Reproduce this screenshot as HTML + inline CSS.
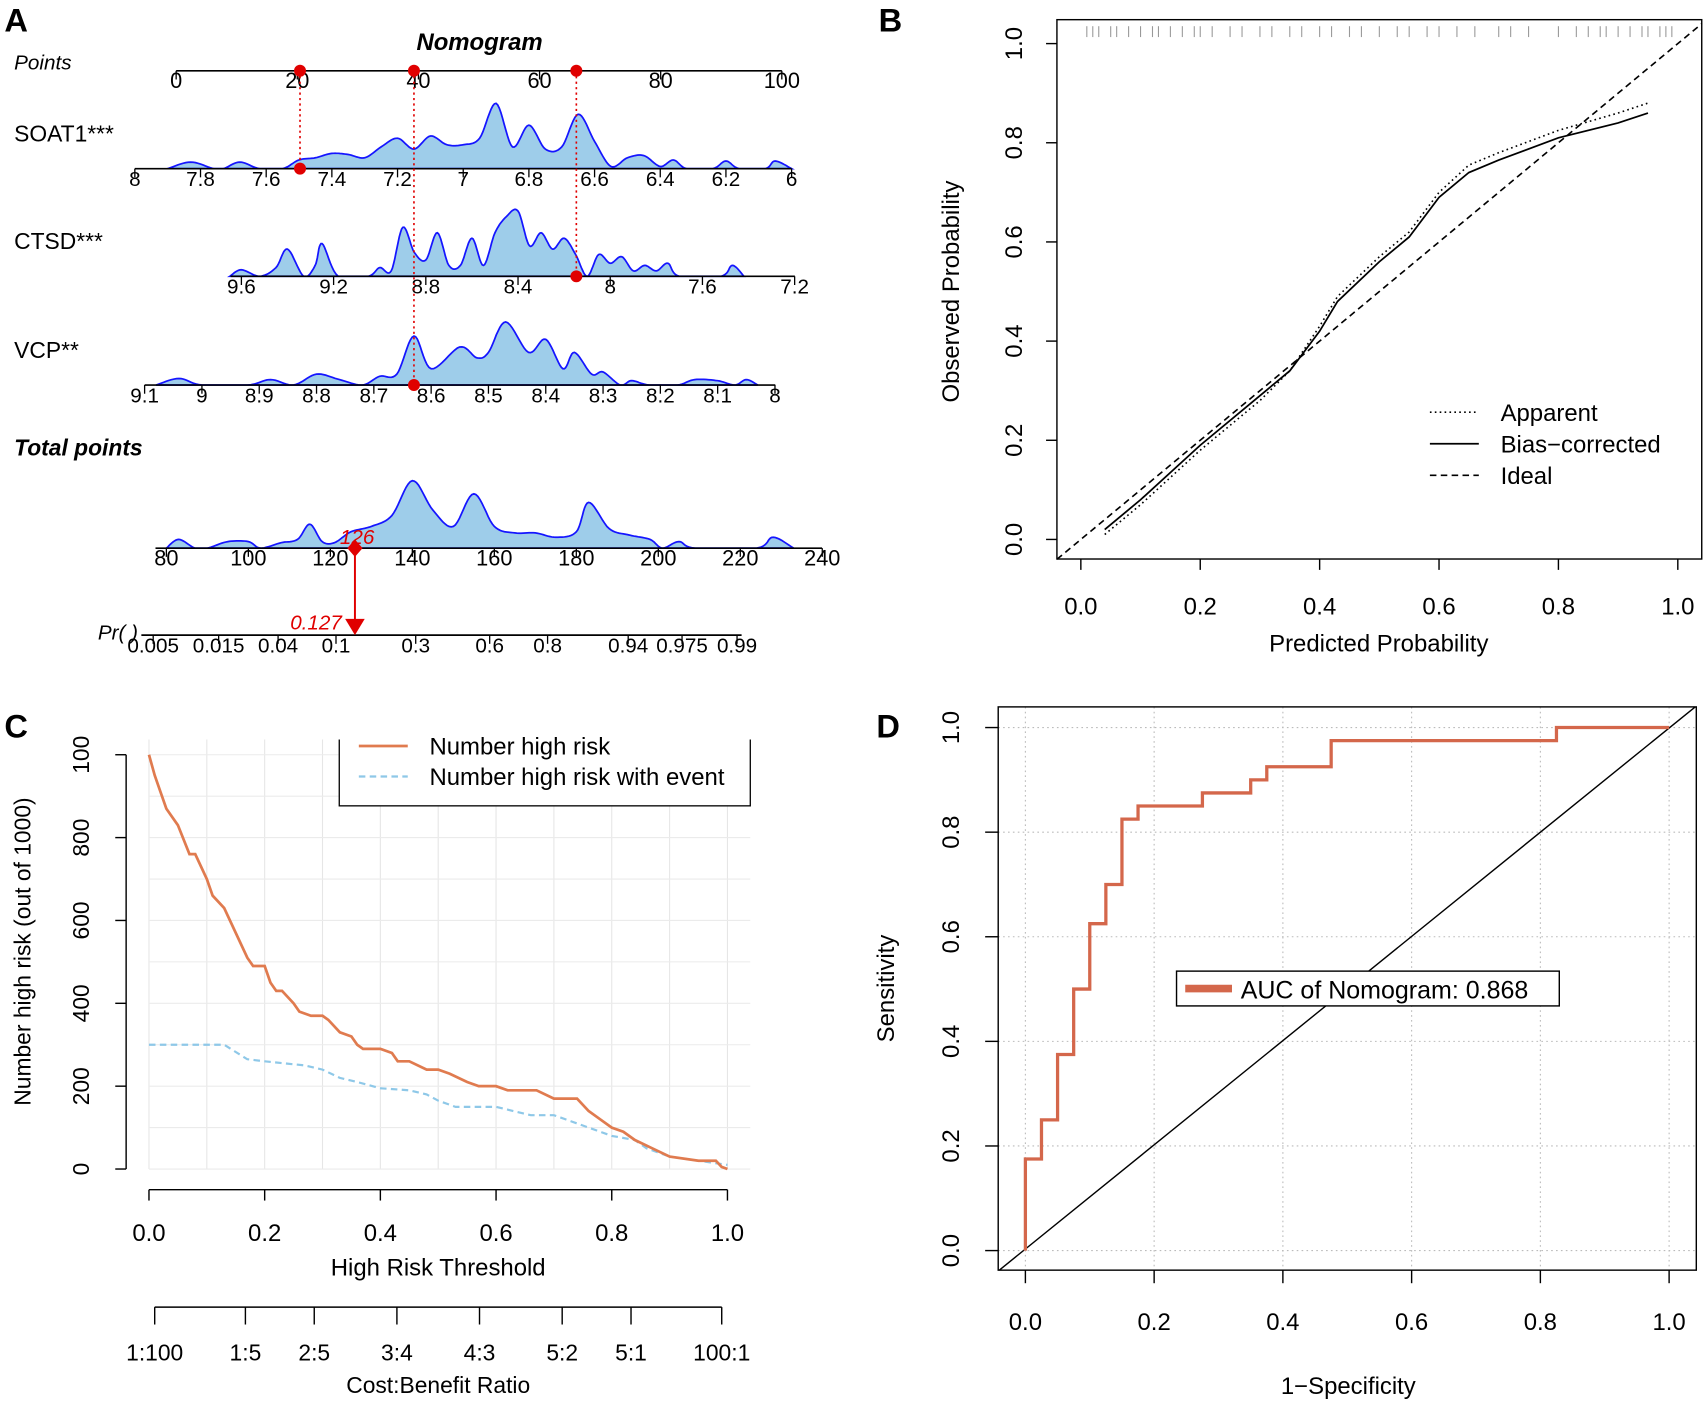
<!DOCTYPE html>
<html><head><meta charset="utf-8"><style>
html,body{margin:0;padding:0;background:#fff}
svg{display:block;font-family:"Liberation Sans",Arial,sans-serif}
</style></head><body>
<svg id="fig" xmlns="http://www.w3.org/2000/svg" width="1705" height="1404" viewBox="0 0 1568 1291">
<rect width="1568" height="1291" fill="#fff"/>
<!-- Panel A static -->
<text x="4" y="29" font-size="30" font-weight="bold">A</text>
<text x="441" y="46" font-size="22" font-weight="bold" font-style="italic" text-anchor="middle">Nomogram</text>
<text x="13" y="64" font-size="19" font-style="italic">Points</text>
<text x="13" y="130" font-size="21">SOAT1***</text>
<text x="13" y="229" font-size="21">CTSD***</text>
<text x="13" y="329" font-size="21">VCP**</text>
<text x="13" y="419" font-size="21" font-weight="bold" font-style="italic">Total points</text>
<text x="90" y="588" font-size="19" font-style="italic">Pr( )</text>
<g id="pa"></g>
<!-- Panel B static -->
<text x="808" y="29" font-size="30" font-weight="bold">B</text>
<rect x="972" y="18" width="593" height="496" fill="none" stroke="#000" stroke-width="1.3"/>
<text transform="translate(882,268) rotate(-90)" font-size="22" text-anchor="middle">Observed Probability</text>
<text x="1268" y="599" font-size="22" text-anchor="middle">Predicted Probability</text>
<g>
<line x1="1315" y1="379" x2="1360" y2="379" stroke="#000" stroke-width="1.5" stroke-dasharray="1.5,3"/>
<text x="1380" y="387" font-size="22">Apparent</text>
<line x1="1315" y1="408" x2="1360" y2="408" stroke="#000" stroke-width="1.5"/>
<text x="1380" y="416" font-size="22">Bias−corrected</text>
<line x1="1315" y1="437" x2="1360" y2="437" stroke="#000" stroke-width="1.5" stroke-dasharray="6,4"/>
<text x="1380" y="445" font-size="22">Ideal</text>
</g>
<g id="pb"></g>
<!-- Panel C static -->
<text x="4" y="678" font-size="30" font-weight="bold">C</text>
<g id="pcgrid"></g>
<text transform="translate(28,875) rotate(-90)" font-size="21" text-anchor="middle">Number high risk (out of 1000)</text>
<text x="403" y="1173" font-size="22" text-anchor="middle">High Risk Threshold</text>
<text x="403" y="1281" font-size="21" text-anchor="middle">Cost:Benefit Ratio</text>
<g id="pc"></g>
<g>
<rect x="312" y="672" width="378" height="69" fill="#fff" stroke="#000" stroke-width="1.2"/>
<rect x="300" y="650" width="400" height="30" fill="#fff"/>
<line x1="330" y1="686" x2="375" y2="686" stroke="#E07B4F" stroke-width="2.5"/>
<text x="395" y="694" font-size="22">Number high risk</text>
<line x1="330" y1="714" x2="375" y2="714" stroke="#8EC8E8" stroke-width="2" stroke-dasharray="6,4"/>
<text x="395" y="722" font-size="22">Number high risk with event</text>
</g>
<!-- Panel D static -->
<text x="806" y="678" font-size="30" font-weight="bold">D</text>
<g id="pdgrid"></g>
<rect x="918" y="650" width="642" height="518" fill="none" stroke="#000" stroke-width="1.3"/>
<line x1="919" y1="1168" x2="1559" y2="650" stroke="#000" stroke-width="1.3"/>
<text transform="translate(822,909) rotate(-90)" font-size="22" text-anchor="middle">Sensitivity</text>
<text x="1240" y="1282" font-size="22" text-anchor="middle">1−Specificity</text>
<g id="pd"></g>
<g>
<rect x="1082" y="893" width="352" height="32" fill="#fff" stroke="#000" stroke-width="1.3"/>
<line x1="1090" y1="909" x2="1133" y2="909" stroke="#D4674B" stroke-width="7"/>
<text x="1141" y="918" font-size="23">AUC of Nomogram: 0.868</text>
</g>
</svg>
<script>
// ---------- DATA ----------
const soatVals=[7.9,7.83,7.76,7.73,7.68,7.62,7.55,7.5,7.45,7.4,7.35,7.3,7.25,7.2,7.15,7.1,7.05,7.0,6.95,6.9,6.85,6.8,6.75,6.7,6.65,6.6,6.55,6.5,6.45,6.4,6.36,6.32,6.24,6.2,6.16,6.08,6.05,6.0];
const soatDens=[0,6,0,0,6,0,0,8,10,14,13,10,20,28,18,30,22,22,28,60,20,40,18,20,50,25,2,10,12,2,8,0,0,7,0,0,7,0];
const ctsdVals=[9.65,9.6,9.52,9.45,9.4,9.33,9.28,9.25,9.18,9.05,9.0,8.95,8.9,8.85,8.8,8.75,8.7,8.65,8.6,8.55,8.5,8.45,8.4,8.35,8.3,8.25,8.2,8.15,8.1,8.05,8.0,7.95,7.9,7.85,7.8,7.75,7.7,7.52,7.47,7.42];
const ctsdDens=[0,6,0,8,25,0,10,30,0,0,8,5,45,22,15,40,10,10,35,10,40,55,60,28,40,25,35,20,0,20,12,18,5,10,5,12,0,0,10,0];
const vcpVals=[9.08,9.04,9.0,8.92,8.88,8.84,8.8,8.76,8.72,8.69,8.66,8.63,8.6,8.55,8.52,8.5,8.47,8.43,8.4,8.37,8.35,8.32,8.3,8.27,8.25,8.22,8.17,8.14,8.1,8.07,8.05,8.03];
const vcpDens=[0,6,0,0,5,0,10,5,0,8,10,45,15,35,25,30,58,30,42,15,30,10,12,0,4,0,0,5,4,0,5,0];
const totVals=[80,83,87,90,95,100,103,108,112,115,118,121,125,130,135,140,145,150,155,160,165,170,175,180,183,188,193,198,201,205,209,224,228,233];
const totDens=[0,8,0,0,6,6,0,5,8,22,6,5,15,20,30,62,35,20,50,20,14,14,10,15,42,18,12,8,0,6,0,0,10,0];
const pointsTicks=[0,20,40,60,80,100];
const soatTicks=[8,7.8,7.6,7.4,7.2,7,6.8,6.6,6.4,6.2,6];
const ctsdTicks=[9.6,9.2,8.8,8.4,8,7.6,7.2];
const vcpTicks=[9.1,9,8.9,8.8,8.7,8.6,8.5,8.4,8.3,8.2,8.1,8];
const totTicks=[80,100,120,140,160,180,200,220,240];
const prTicks=[0.005,0.015,0.04,0.1,0.3,0.6,0.8,0.94,0.975,0.99];
const selPoints=[20.5,39.2,66.1];
const selSoat=7.497, selCtsd=8.147, selVcp=8.63, selTotal=126, selProb=0.127;
const calX=[0.04,0.1,0.2,0.3,0.35,0.4,0.43,0.5,0.55,0.6,0.65,0.7,0.8,0.9,0.95];
const calBias=[0.02,0.08,0.19,0.29,0.34,0.42,0.48,0.56,0.61,0.69,0.74,0.765,0.81,0.84,0.86];
const calApp=[0.01,0.07,0.18,0.28,0.34,0.43,0.49,0.57,0.62,0.7,0.755,0.78,0.825,0.86,0.88];
const rugVals=[0.01,0.02,0.03,0.05,0.06,0.08,0.1,0.12,0.13,0.15,0.17,0.19,0.2,0.22,0.25,0.27,0.3,0.32,0.35,0.37,0.4,0.42,0.45,0.47,0.5,0.53,0.55,0.58,0.6,0.63,0.66,0.7,0.72,0.75,0.8,0.83,0.85,0.87,0.88,0.9,0.92,0.94,0.95,0.97,0.98,0.99];
const calTicks=[0,0.2,0.4,0.6,0.8,1.0];
const calTickLabels=['0.0','0.2','0.4','0.6','0.8','1.0'];
const dcaThr=[0,0.01,0.02,0.03,0.05,0.07,0.08,0.1,0.11,0.13,0.15,0.17,0.18,0.2,0.21,0.22,0.23,0.25,0.26,0.28,0.3,0.31,0.33,0.35,0.36,0.37,0.4,0.42,0.43,0.45,0.48,0.5,0.52,0.55,0.57,0.6,0.62,0.67,0.7,0.74,0.76,0.78,0.8,0.82,0.84,0.87,0.9,0.95,0.98,0.99,1.0];
const dcaHigh=[1000,950,910,870,830,760,760,700,660,630,570,510,490,490,450,430,430,400,380,370,370,360,330,320,300,290,290,280,260,260,240,240,230,210,200,200,190,190,170,170,140,120,100,90,70,50,30,20,20,5,0];
const evtThr=[0,0.13,0.17,0.2,0.27,0.3,0.33,0.36,0.4,0.45,0.48,0.5,0.53,0.6,0.66,0.7,0.74,0.76,0.8,0.84,0.86,0.9,0.95,1.0];
const evtHigh=[300,300,265,260,250,240,220,210,195,190,180,165,150,150,130,130,110,100,80,70,50,30,20,10];
const dcaXTicks=[0,0.2,0.4,0.6,0.8,1.0];
const dcaXLabels=['0.0','0.2','0.4','0.6','0.8','1.0'];
const dcaYTicks=[0,200,400,600,800,1000];
const dcaYLabels=['0','200','400','600','800','100'];
const cbThr=[0.0099,0.1667,0.2857,0.4286,0.5714,0.7143,0.8333,0.9901];
const cbLabels=['1:100','1:5','2:5','3:4','4:3','5:2','5:1','100:1'];
const rocFpr=[0,0,0.025,0.025,0.05,0.05,0.075,0.075,0.1,0.1,0.125,0.125,0.15,0.15,0.175,0.175,0.275,0.275,0.35,0.35,0.375,0.375,0.475,0.475,0.825,0.825,1];
const rocTpr=[0,0.175,0.175,0.25,0.25,0.375,0.375,0.5,0.5,0.625,0.625,0.7,0.7,0.825,0.825,0.85,0.85,0.875,0.875,0.9,0.9,0.925,0.925,0.975,0.975,1,1];
const rocTicks=[0,0.2,0.4,0.6,0.8,1.0];
const rocLabels=['0.0','0.2','0.4','0.6','0.8','1.0'];

// ---------- HELPERS ----------
const NS='http://www.w3.org/2000/svg';
function mk(tag,parent){const e=document.createElementNS(NS,tag);parent.appendChild(e);return e;}
function set(e,o){for(const k in o)e.setAttribute(k,o[k]);return e;}
function crSample(xs,hs){
  const out=[];
  for(let i=0;i<xs.length-1;i++){
    const x0=xs[Math.max(0,i-1)],x1=xs[i],x2=xs[i+1],x3=xs[Math.min(xs.length-1,i+2)];
    const h0=hs[Math.max(0,i-1)],h1=hs[i],h2=hs[i+1],h3=hs[Math.min(hs.length-1,i+2)];
    for(let s=0;s<10;s++){const t=s/10,t2=t*t,t3=t2*t;
      const f=(a,b,c,d)=>0.5*(2*b+(-a+c)*t+(2*a-5*b+4*c-d)*t2+(-a+3*b-3*c+d)*t3);
      out.push([f(x0,x1,x2,x3),Math.max(0,f(h0,h1,h2,h3))]);}
  }
  out.push([xs[xs.length-1],hs[hs.length-1]]);return out;
}
const pa=document.getElementById('pa');
function nomoAxis(name,scale,ticks,y,x1,x2,fs){
  const ln=mk('line',pa);set(ln,{x1:x1,x2:x2,y1:y,y2:y,stroke:'#000','stroke-width':1.5});
  
  
  ticks.forEach(t=>{const x=scale(t);
    const tk=mk('line',pa);set(tk,{x1:x,x2:x,y1:y,y2:y+8,stroke:'#000','stroke-width':1.2});
    
    
    const tx=mk('text',pa);set(tx,{x:x,y:y+16,'font-size':fs||19,'text-anchor':'middle'});tx.textContent=String(t);
    
    
  });
}
function density(name,scale,vals,dens,y){
  const pts=crSample(vals.map(scale),dens);
  let d='M'+pts[0][0]+','+y;pts.forEach(p=>d+=' L'+p[0].toFixed(1)+','+(y-p[1]).toFixed(1));d+=' L'+pts[pts.length-1][0]+','+y+' Z';
  const p=mk('path',pa);set(p,{d:d,fill:'#9ECDEA',stroke:'#1515FF','stroke-width':1.6});
  
  
}
// ---------- PANEL A ----------
const sPts=v=>162+v*5.57, sSoat=v=>124+(8-v)*302, sCtsd=v=>222+(9.6-v)*212, sVcp=v=>133+(9.1-v)*527, sTot=v=>153+(v-80)*3.77;
const logit=p=>Math.log(p/(1-p)); const sPr=p=>309+54.3*(logit(p)-logit(0.1));
density('soat1',sSoat,soatVals,soatDens,155);
density('ctsd',sCtsd,ctsdVals,ctsdDens,254);
density('vcp',sVcp,vcpVals,vcpDens,354);
density('total-points',sTot,totVals,totDens,504);
nomoAxis('points',sPts,pointsTicks,65,162,719,20);
nomoAxis('soat1',sSoat,soatTicks,155,124,728);
nomoAxis('ctsd',sCtsd,ctsdTicks,254,212,731);
nomoAxis('vcp',sVcp,vcpTicks,354,133,713);
nomoAxis('total-points',sTot,totTicks,504,143,756,20);
nomoAxis('probability',sPr,prTicks,584,130,682);
const guideY=[155,354,254];
const guideX=[sSoat(selSoat),sVcp(selVcp),sCtsd(selCtsd)];
selPoints.forEach((v,i)=>{const x=sPts(v);
  const g=mk('line',pa);set(g,{x1:guideX[i],x2:guideX[i],y1:65,y2:guideY[i],stroke:'#E00000','stroke-width':1.5,'stroke-dasharray':'2,3'});
  
  
  const c=mk('circle',pa);set(c,{cx:guideX[i],cy:65,r:5.5,fill:'#E00000'});
  
  
  const c2=mk('circle',pa);set(c2,{cx:guideX[i],cy:guideY[i],r:5.5,fill:'#E00000'});
  
  
});
{const x=sTot(selTotal);
 const dm=mk('path',pa);set(dm,{d:`M${x},${496} L${x+7},${504} L${x},${512} L${x-7},${504} Z`,fill:'#E00000'});
 
 
 const ar=mk('line',pa);set(ar,{x1:x,x2:x,y1:504,y2:572,stroke:'#E00000','stroke-width':1.8});
 
 
 const tr=mk('path',pa);set(tr,{d:`M${x-9},${569} L${x+9},${569} L${x},${584} Z`,fill:'#E00000'});
 
 
 const t1=mk('text',pa);set(t1,{x:x+2,y:500,'font-size':19,'font-style':'italic',fill:'#E00000','text-anchor':'middle'});t1.textContent=String(selTotal);
 
 
 const t2=mk('text',pa);set(t2,{x:x-12,y:579,'font-size':19,'font-style':'italic',fill:'#E00000','text-anchor':'end'});t2.textContent=String(selProb);
 
 
}
// ---------- PANEL B ----------
const pb=document.getElementById('pb');
const bx=v=>994+v*549, by=v=>496-v*456;
calTicks.forEach((t,i)=>{
  const a=mk('line',pb);set(a,{x1:bx(t),x2:bx(t),y1:514,y2:524,stroke:'#000','stroke-width':1.3});
  
  
  const l=mk('text',pb);set(l,{x:bx(t),y:565,'font-size':22,'text-anchor':'middle'});l.textContent=calTickLabels[i];
  
  
  const b=mk('line',pb);set(b,{x1:962,x2:972,y1:by(t),y2:by(t),stroke:'#000','stroke-width':1.3});
  
  
  const m=mk('text',pb);set(m,{transform:`translate(940,${by(t)}) rotate(-90)`,'font-size':22,'text-anchor':'middle'});m.textContent=calTickLabels[i];
  
  
});
rugVals.forEach(v=>{const r=mk('line',pb);set(r,{x1:bx(v),x2:bx(v),y1:24,y2:34,stroke:'#999','stroke-width':1});
  
  });
{const id=mk('line',pb);set(id,{x1:bx(-0.04),y1:by(-0.04),x2:bx(1.04),y2:by(1.04),stroke:'#000','stroke-width':1.5,'stroke-dasharray':'6,4'});
 
 
 const p1=mk('polyline',pb);set(p1,{points:calX.map((x,i)=>bx(x)+','+by(calApp[i])).join(' '),fill:'none',stroke:'#000','stroke-width':1.5,'stroke-dasharray':'1.5,3'});
 
 
 const p2=mk('polyline',pb);set(p2,{points:calX.map((x,i)=>bx(x)+','+by(calBias[i])).join(' '),fill:'none',stroke:'#000','stroke-width':1.6});
 
 }
// ---------- PANEL C ----------
const pc=document.getElementById('pc'), pcg=document.getElementById('pcgrid');
const cx=v=>137+v*532, cy=v=>1075-v*0.381;
for(let i=0;i<=10;i++){const g=mk('line',pcg);set(g,{x1:cx(i/10),x2:cx(i/10),y1:680,y2:1075,stroke:'#E6E6E6','stroke-width':1});
  
  }
for(let i=0;i<=10;i++){const g=mk('line',pcg);set(g,{x1:137,x2:690,y1:cy(i*100),y2:cy(i*100),stroke:'#EBEBEB','stroke-width':1});
  
  }
{const a=mk('line',pc);set(a,{x1:cx(0),x2:cx(1),y1:1094,y2:1094,stroke:'#000','stroke-width':1.3});
 
 
 const b=mk('line',pc);set(b,{x1:116,x2:116,y1:cy(0),y2:cy(1000),stroke:'#000','stroke-width':1.3});
 
 
 const c=mk('line',pc);set(c,{x1:cx(cbThr[0]),x2:cx(cbThr[cbThr.length-1]),y1:1202,y2:1202,stroke:'#000','stroke-width':1.3});
 
 }
dcaXTicks.forEach((t,i)=>{
  const a=mk('line',pc);set(a,{x1:cx(t),x2:cx(t),y1:1094,y2:1104,stroke:'#000','stroke-width':1.3});
  
  
  const l=mk('text',pc);set(l,{x:cx(t),y:1141,'font-size':22,'text-anchor':'middle'});l.textContent=dcaXLabels[i];
  
  });
dcaYTicks.forEach((t,i)=>{
  const a=mk('line',pc);set(a,{x1:106,x2:116,y1:cy(t),y2:cy(t),stroke:'#000','stroke-width':1.3});
  
  
  const l=mk('text',pc);set(l,{transform:`translate(82,${cy(t)}) rotate(-90)`,'font-size':21,'text-anchor':'middle'});l.textContent=dcaYLabels[i];
  
  });
cbThr.forEach((t,i)=>{
  const a=mk('line',pc);set(a,{x1:cx(t),x2:cx(t),y1:1202,y2:1218,stroke:'#000','stroke-width':1.3});
  
  
  const l=mk('text',pc);set(l,{x:cx(t),y:1251,'font-size':21,'text-anchor':'middle'});l.textContent=cbLabels[i];
  
  });
{const e=mk('polyline',pc);set(e,{points:evtThr.map((x,i)=>cx(x)+','+cy(evtHigh[i])).join(' '),fill:'none',stroke:'#8EC8E8','stroke-width':2,'stroke-dasharray':'6,4'});
 
 
 const h=mk('polyline',pc);set(h,{points:dcaThr.map((x,i)=>cx(x)+','+cy(dcaHigh[i])).join(' '),fill:'none',stroke:'#E07B4F','stroke-width':2.5});
 
 }
// ---------- PANEL D ----------
const pd=document.getElementById('pd'), pdg=document.getElementById('pdgrid');
const dx=v=>943+v*592, dy=v=>1150-v*481;
rocTicks.forEach((t,i)=>{
  const gv=mk('line',pdg);set(gv,{x1:dx(t),x2:dx(t),y1:650,y2:1168,stroke:'#BBB','stroke-width':1,'stroke-dasharray':'1.5,3'});
  
  
  const gh=mk('line',pdg);set(gh,{x1:918,x2:1560,y1:dy(t),y2:dy(t),stroke:'#BBB','stroke-width':1,'stroke-dasharray':'1.5,3'});
  
  
  const a=mk('line',pd);set(a,{x1:dx(t),x2:dx(t),y1:1168,y2:1180,stroke:'#000','stroke-width':1.3});
  
  
  const l=mk('text',pd);set(l,{x:dx(t),y:1223,'font-size':22,'text-anchor':'middle'});l.textContent=rocLabels[i];
  
  
  const b=mk('line',pd);set(b,{x1:906,x2:918,y1:dy(t),y2:dy(t),stroke:'#000','stroke-width':1.3});
  
  
  const m=mk('text',pd);set(m,{transform:`translate(882,${dy(t)}) rotate(-90)`,'font-size':22,'text-anchor':'middle'});m.textContent=rocLabels[i];
  
  });
{const r=mk('polyline',pd);set(r,{points:rocFpr.map((x,i)=>dx(x)+','+dy(rocTpr[i])).join(' '),fill:'none',stroke:'#D4674B','stroke-width':3});
 
 }
</script>
</body></html>
